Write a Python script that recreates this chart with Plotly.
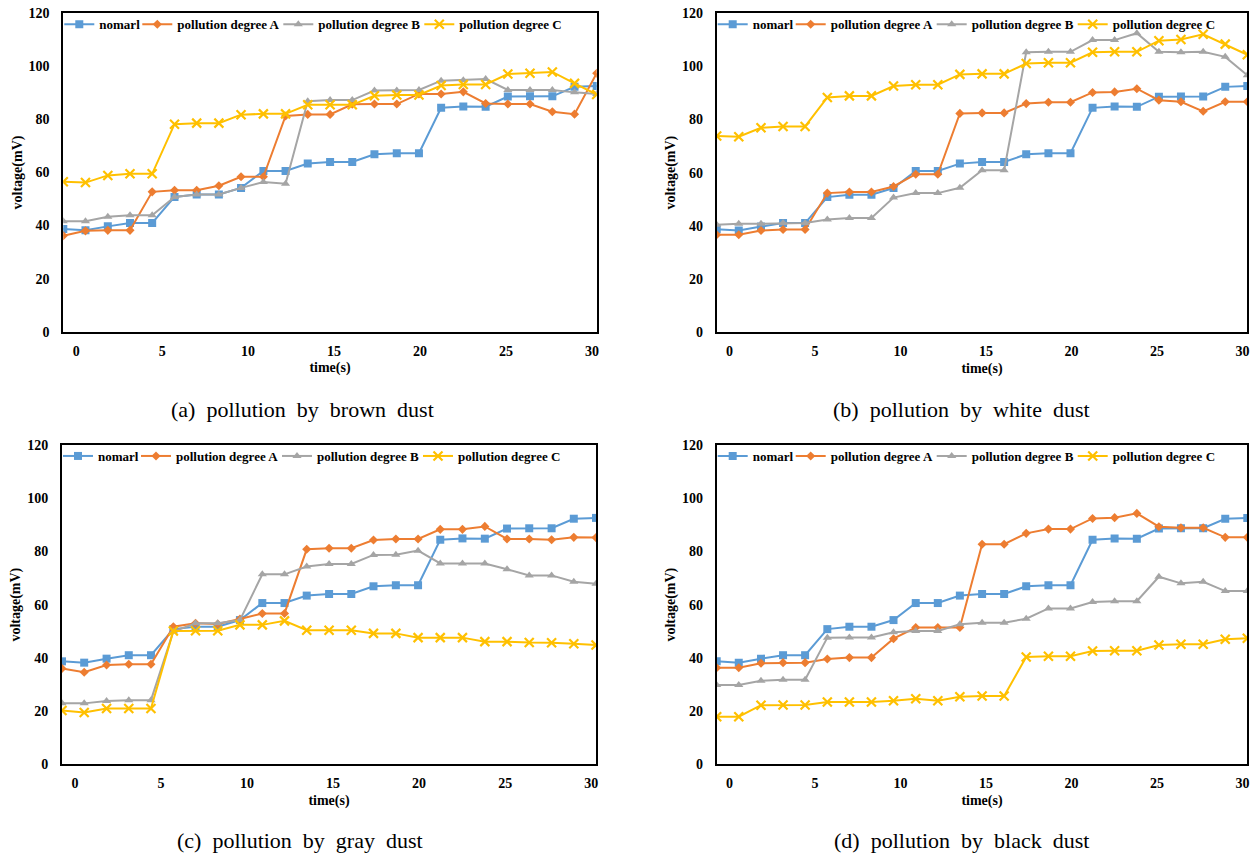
import plotly.graph_objects as go

# ---------------- data ----------------
time_s = [-0.75, 0.54, 1.84, 3.13, 4.42, 5.72, 7.01, 8.30, 9.59, 10.89, 12.18, 13.47,
          14.77, 16.06, 17.35, 18.65, 19.94, 21.23, 22.52, 23.82, 25.11, 26.40, 27.70,
          28.99, 30.28]

normal = [38.7, 38.2, 39.7, 41.0, 41.0, 50.8, 51.7, 51.7, 54.2, 60.6, 60.6, 63.4,
          64.0, 64.0, 66.9, 67.3, 67.3, 84.4, 84.9, 84.8, 88.6, 88.7, 88.7, 92.3, 92.6]

brown_A = [36.2, 38.0, 38.2, 38.2, 52.7, 53.3, 53.3, 55.0, 58.4, 58.4, 81.3, 81.9,
           81.9, 85.7, 85.8, 85.8, 89.6, 89.6, 90.4, 86.0, 85.8, 85.8, 82.9, 82.0, 97.4]
brown_B = [41.6, 41.6, 43.3, 43.9, 43.9, 50.8, 51.7, 51.7, 54.2, 56.4, 55.8, 86.9,
           87.3, 87.3, 90.9, 90.9, 91.1, 94.6, 94.8, 95.2, 91.1, 91.1, 91.1, 90.2, 89.6]
brown_C = [56.5, 56.2, 58.9, 59.5, 59.5, 78.2, 78.6, 78.6, 81.8, 82.1, 82.1, 85.5,
           85.5, 85.5, 88.9, 89.2, 89.2, 92.8, 93.2, 93.2, 97.1, 97.4, 97.9, 93.6, 89.4]

white_A = [36.6, 36.6, 38.2, 38.6, 38.6, 52.3, 52.7, 52.7, 54.8, 59.4, 59.4, 82.3,
           82.5, 82.5, 86.0, 86.5, 86.5, 90.2, 90.4, 91.6, 87.3, 86.7, 83.1, 86.7, 86.7]
white_B = [40.4, 40.8, 40.8, 41.0, 41.0, 42.4, 42.9, 42.9, 50.6, 52.3, 52.3, 54.3,
           60.9, 60.9, 105.3, 105.5, 105.5, 109.9, 109.9, 112.5, 105.5, 105.3, 105.5,
           103.6, 96.7]
white_C = [73.8, 73.5, 76.9, 77.4, 77.4, 88.3, 88.9, 88.9, 92.6, 93.1, 93.1, 97.0,
           97.2, 97.2, 101.1, 101.4, 101.4, 105.3, 105.5, 105.5, 109.7, 110.1, 112.1,
           108.4, 104.4]

gray_A = [36.0, 34.6, 37.3, 37.6, 37.6, 51.7, 53.0, 52.7, 54.6, 56.7, 56.7, 80.8,
          81.2, 81.2, 84.3, 84.7, 84.7, 88.3, 88.3, 89.4, 84.7, 84.7, 84.4, 85.3, 85.2]
gray_B = [22.9, 22.9, 23.8, 24.1, 24.1, 49.9, 53.0, 53.0, 54.2, 71.4, 71.4, 74.3,
          75.3, 75.3, 78.7, 78.8, 80.3, 75.5, 75.5, 75.5, 73.3, 71.0, 71.0, 68.6, 67.9]
gray_C = [20.2, 19.5, 21.0, 21.0, 21.0, 50.1, 50.2, 50.2, 52.4, 52.4, 53.9, 50.4,
          50.4, 50.4, 49.2, 49.2, 47.6, 47.6, 47.6, 46.1, 46.1, 45.8, 45.7, 45.3, 44.8]

black_A = [36.3, 36.3, 38.0, 38.2, 38.2, 39.6, 40.1, 40.1, 47.2, 51.4, 51.4, 51.4,
           82.7, 82.7, 86.8, 88.4, 88.4, 92.4, 92.7, 94.3, 89.3, 88.9, 88.9, 85.3, 85.3]
black_B = [29.8, 29.8, 31.4, 31.8, 31.8, 47.6, 47.7, 47.7, 49.6, 50.1, 50.1, 52.6,
           53.2, 53.2, 54.7, 58.6, 58.6, 61.0, 61.3, 61.3, 70.5, 68.0, 68.6, 65.1, 65.1]
black_C = [17.9, 17.9, 22.2, 22.3, 22.3, 23.4, 23.4, 23.4, 23.9, 24.6, 23.9, 25.4,
           25.7, 25.7, 40.3, 40.6, 40.6, 42.6, 42.7, 42.7, 44.8, 45.1, 45.1, 47.0, 47.4]

series_names = ["nomarl", "pollution degree A", "pollution degree B", "pollution degree C"]
captions = ["(a)&nbsp; pollution&nbsp; by&nbsp; brown&nbsp; dust",
            "(b)&nbsp; pollution&nbsp; by&nbsp; white&nbsp; dust",
            "(c)&nbsp; pollution&nbsp; by&nbsp; gray&nbsp; dust",
            "(d)&nbsp; pollution&nbsp; by&nbsp; black&nbsp; dust"]
x_ticks = [0, 5, 10, 15, 20, 25, 30]
y_ticks = [0, 20, 40, 60, 80, 100, 120]

panels = [
    [normal, brown_A, brown_B, brown_C],
    [normal, white_A, white_B, white_C],
    [normal, gray_A, gray_B, gray_C],
    [normal, black_A, black_B, black_C],
]

# ---------------- styling ----------------
W, H = 1260, 856
colors = ["#5B9BD5", "#ED7D31", "#A5A5A5", "#FFC000"]
symbols = ["square", "diamond", "triangle-up", "x-thin"]
msizes = [8, 7, 8, 9]
SERIF = "Liberation Serif, Times New Roman, serif"

# panel boxes in pixels: (left, right, top, bottom)
boxes = [(63.3, 596.7, 13.3, 331.7),
         (716.7, 1247.3, 13.3, 332.0),
         (62.0, 596.0, 445.0, 764.3),
         (716.7, 1247.3, 445.0, 764.3)]
caption_pos = [(302, 409), (962, 409), (300, 840), (962, 840)]
# legend text start offsets (px from plot left edge) for each series
legend_text_x = [36, 114, 255, 396]
LEGEND_TEXT_OFFSET = 40   # text starts this far right of the legend's x

fig = go.Figure()
layout = {}
legend_idx = 0
for i, (vals, box) in enumerate(zip(panels, boxes)):
    xa = "x" if i == 0 else f"x{i+1}"
    ya = "y" if i == 0 else f"y{i+1}"
    l, r, t, b = box
    for j, ys in enumerate(vals):
        legend_idx += 1
        lg = "legend" if legend_idx == 1 else f"legend{legend_idx}"
        marker = dict(symbol=symbols[j], size=msizes[j], color=colors[j])
        if symbols[j] == "x-thin":
            marker["line"] = dict(width=2.2, color=colors[j])
        fig.add_trace(go.Scatter(
            x=time_s, y=ys, mode="lines+markers", name=series_names[j],
            line=dict(color=colors[j], width=2), marker=marker,
            xaxis=xa, yaxis=ya, legend=lg, showlegend=True))
        layout[lg] = dict(
            x=(l + legend_text_x[j] - LEGEND_TEXT_OFFSET) / W,
            y=1 - (t + 11) / H, xanchor="left", yanchor="middle",
            orientation="h", bgcolor="rgba(0,0,0,0)", itemwidth=30,
            font=dict(family=SERIF, size=13, color="black", weight="bold"),
            itemclick=False, itemdoubleclick=False)
    xkey = "xaxis" if i == 0 else f"xaxis{i+1}"
    ykey = "yaxis" if i == 0 else f"yaxis{i+1}"
    layout[xkey] = dict(
        domain=[l / W, r / W], anchor=ya, range=[time_s[0], time_s[-1]],
        tickvals=x_ticks, ticktext=[str(v) for v in x_ticks],
        showgrid=False, zeroline=False, showline=True, mirror=True,
        linecolor="black", linewidth=2, ticks="", ticklabelstandoff=5,
        tickfont=dict(family=SERIF, size=14, color="black", weight="bold"),
        title=dict(text="<b>time(s)</b>", standoff=5,
                   font=dict(family=SERIF, size=14, color="black")))
    layout[ykey] = dict(
        domain=[1 - b / H, 1 - t / H], anchor=xa, range=[0, 120],
        tickvals=y_ticks, showgrid=False, zeroline=False, showline=True, mirror=True,
        linecolor="black", linewidth=2, ticks="", ticklabelstandoff=9,
        tickfont=dict(family=SERIF, size=14, color="black", weight="bold"),
        title=dict(text="<b>voltage(mV)</b>", standoff=3,
                   font=dict(family=SERIF, size=14, color="black")))

annotations = []
for cap, (cx, cy) in zip(captions, caption_pos):
    annotations.append(dict(
        text=cap, x=cx / W, y=1 - cy / H, xref="paper", yref="paper",
        xanchor="center", yanchor="middle", showarrow=False,
        font=dict(family=SERIF, size=22, color="black")))

fig.update_layout(
    width=W, height=H, margin=dict(l=0, r=0, t=0, b=0, autoexpand=False),
    paper_bgcolor="white", plot_bgcolor="white",
    annotations=annotations, **layout)

fig.write_html("out.html", config={"displayModeBar": False},
               post_script="document.body.style.margin='0';document.body.style.overflow='hidden';")
